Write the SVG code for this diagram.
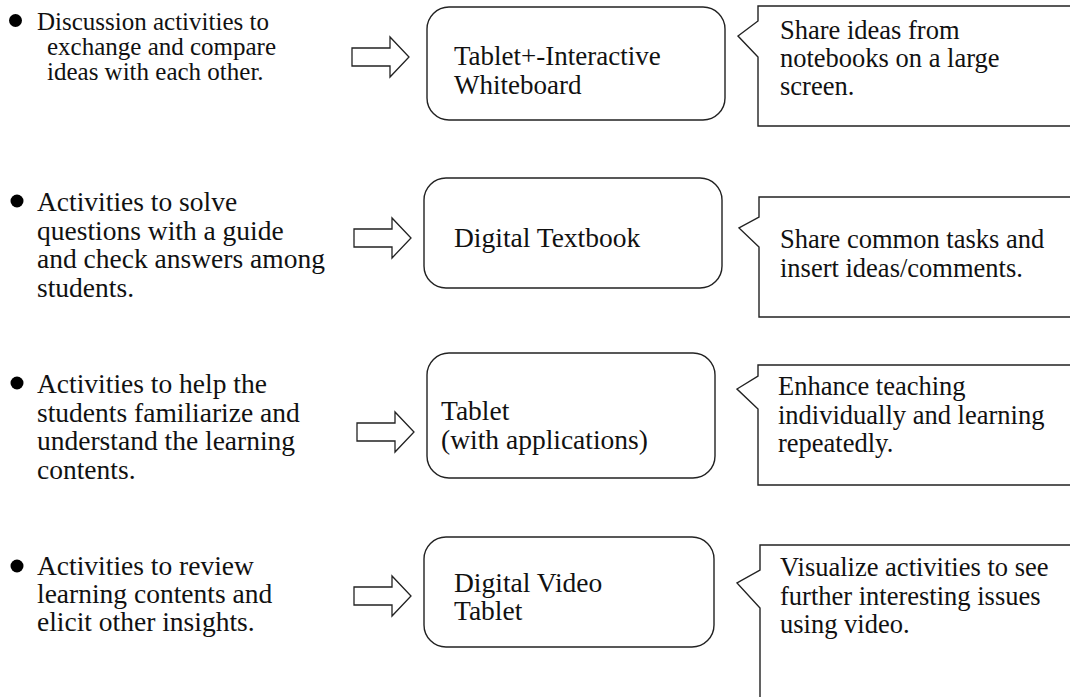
<svg xmlns="http://www.w3.org/2000/svg" width="1070" height="697" viewBox="0 0 1070 697">
<style>
text{font-family:"Liberation Serif","Times New Roman",serif;font-size:27.5px;fill:#111}
.r1{font-size:25px}
.b1{font-size:27px}
.note{font-size:26.5px}
.box{fill:#fff;stroke:#222;stroke-width:1.4}
.call{fill:#fff;stroke:#222;stroke-width:1.4}
.arr{fill:#fff;stroke:#222;stroke-width:1.3}
.dot{fill:#000}
</style>
<defs>
<polygon id="arrow" class="arr" points="0,-9 38,-9 38,-20 57,0 38,20 38,9 0,9"/>
</defs>
<rect width="1070" height="697" fill="#fff"/>

<g id="activity1">
<circle class="dot" cx="15.5" cy="20.5" r="6.5"/>
<text class="r1" x="37" y="30">Discussion activities to</text>
<text class="r1" x="47" y="55">exchange and compare</text>
<text class="r1" x="47" y="80">ideas with each other.</text>
</g>
<g id="activity2">
<circle class="dot" cx="17" cy="201" r="6.5"/>
<text x="37" y="211">Activities to solve</text>
<text x="37" y="239.5">questions with a guide</text>
<text x="37" y="268">and check answers among</text>
<text x="37" y="296.5">students.</text>
</g>
<g id="activity3">
<circle class="dot" cx="17" cy="383" r="6.5"/>
<text x="37" y="393">Activities to help the</text>
<text x="37" y="421.5">students familiarize and</text>
<text x="37" y="450">understand the learning</text>
<text x="37" y="478.5">contents.</text>
</g>
<g id="activity4">
<circle class="dot" cx="17" cy="566" r="6.5"/>
<text x="37" y="575">Activities to review</text>
<text x="37" y="603">learning contents and</text>
<text x="37" y="631">elicit other insights.</text>
</g>

<g id="connectors">
<use href="#arrow" x="352" y="57"/>
<use href="#arrow" x="354" y="238"/>
<use href="#arrow" x="357" y="432"/>
<use href="#arrow" x="354" y="596"/>
</g>

<g id="tool1">
<rect class="box" x="427" y="7" width="298" height="113" rx="22"/>
<text class="b1" x="454" y="65">Tablet+-Interactive</text>
<text class="b1" x="454" y="93.5">Whiteboard</text>
</g>
<g id="tool2">
<rect class="box" x="424" y="178" width="298" height="110" rx="22"/>
<text x="454" y="247">Digital Textbook</text>
</g>
<g id="tool3">
<rect class="box" x="427" y="353" width="288" height="125" rx="22"/>
<text x="441" y="420">Tablet</text>
<text x="441" y="449">(with applications)</text>
</g>
<g id="tool4">
<rect class="box" x="424" y="537" width="290" height="110" rx="22"/>
<text x="454" y="592">Digital Video</text>
<text x="454" y="620">Tablet</text>
</g>

<g id="note1">
<path class="call" d="M1075,6 H758 V21 L738,36 L758,57 V126 H1075"/>
<text class="note" x="780" y="39">Share ideas from</text>
<text class="note" x="780" y="67">notebooks on a large</text>
<text class="note" x="780" y="95">screen.</text>
</g>
<g id="note2">
<path class="call" d="M1075,197 H759 V217 L739,228 L759,247 V317 H1075"/>
<text class="note" x="780" y="248">Share common tasks and</text>
<text class="note" x="780" y="277">insert ideas/comments.</text>
</g>
<g id="note3">
<path class="call" d="M1075,365 H758 V376 L737,389 L758,409 V485 H1075"/>
<text class="note" x="778" y="395">Enhance teaching</text>
<text class="note" x="778" y="424">individually and learning</text>
<text class="note" x="778" y="452">repeatedly.</text>
</g>
<g id="note4">
<path class="call" d="M1075,545 H760 V570 L737,583 L760,608 V700"/>
<text class="note" x="780" y="576">Visualize activities to see</text>
<text class="note" x="780" y="605">further interesting issues</text>
<text class="note" x="780" y="633">using video.</text>
</g>
</svg>
